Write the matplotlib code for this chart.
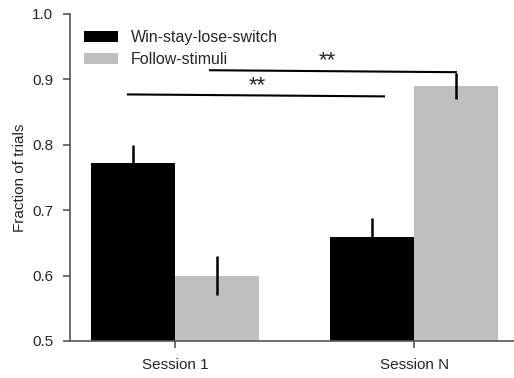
import matplotlib
matplotlib.use("Agg")
import matplotlib.pyplot as plt
import numpy as np

plt.rcParams['font.family'] = ['Liberation Sans', 'DejaVu Sans']

categories = ["Session 1", "Session N"]
series_names = ["Win-stay-lose-switch", "Follow-stimuli"]
wsls = [0.772, 0.659]
wsls_err = [0.027, 0.029]
follow = [0.600, 0.890]
follow_err = [0.030, 0.020]
yticks = [0.5, 0.6, 0.7, 0.8, 0.9, 1.0]

fig = plt.figure(figsize=(5.14, 3.78), dpi=100)
ax = fig.add_axes([0.136, 0.098, 0.864, 0.865])

x = np.arange(len(categories))
w = 0.352
txtc = '#262626'
b1 = ax.bar(x - w/2, wsls, w, color='black', label=series_names[0])
b2 = ax.bar(x + w/2, follow, w, color='#bfbfbf', label=series_names[1])
ax.errorbar(x - w/2, wsls, yerr=wsls_err, fmt='none', ecolor='black', elinewidth=1.8, capsize=0)
ax.errorbar(x + w/2, follow, yerr=follow_err, fmt='none', ecolor='black', elinewidth=1.8, capsize=0)

# significance lines
ax.plot([-0.197, 0.874], [0.877, 0.874], color='black', lw=1.5)
ax.text(0.345, 0.874, '**', ha='center', va='bottom', fontsize=16, color=txtc)
ax.plot([0.146, 1.175], [0.914, 0.911], color='black', lw=1.5)
ax.text(0.638, 0.912, '**', ha='center', va='bottom', fontsize=16, color=txtc)

ax.set_xlim(-0.44, 1.418)
ax.set_ylim(0.5, 1.0)
ax.set_yticks(yticks)
ax.set_yticklabels([f"{t:.1f}" for t in yticks], fontsize=11, color=txtc)
ax.set_xticks(x)
ax.set_xticklabels(categories, fontsize=11, color=txtc)
ax.set_ylabel("Fraction of trials", fontsize=11, color=txtc)
for s in ['top', 'right']:
    ax.spines[s].set_visible(False)
for s in ['left', 'bottom']:
    ax.spines[s].set_color('#555555')
    ax.spines[s].set_linewidth(1.2)
ax.tick_params(color='#555555', width=1.2, length=5, pad=7)

ax.legend(loc='upper left', bbox_to_anchor=(0.0, 0.995), frameon=False, fontsize=11.5,
          handlelength=2.1, handleheight=0.75, handletextpad=0.8, labelspacing=0.45,
          labelcolor=txtc)

fig.savefig("out.png", dpi=100)
